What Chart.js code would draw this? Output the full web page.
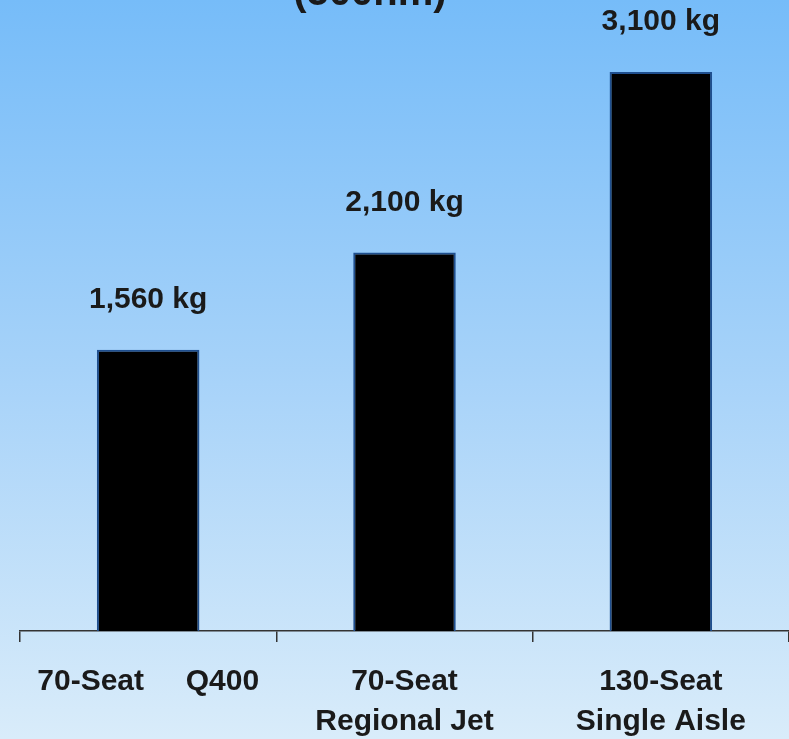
<!DOCTYPE html>
<html>
<head>
<meta charset="utf-8">
<script src="https://cdn.jsdelivr.net/npm/chart.js@4.4.0/dist/chart.umd.min.js"></script>
<style>
  html, body { margin: 0; padding: 0; background: #fff; }
  #wrap { width: 789px; height: 739px; position: relative; }
</style>
</head>
<body>
<div id="wrap"><canvas id="c"></canvas></div>
<script>
const categories = [["70-Seat     Q400"], ["70-Seat", "Regional Jet"], ["130-Seat", "Single Aisle"]];
const values = [1560, 2100, 3100];
const valueLabels = ["1,560 kg", "2,100 kg", "3,100 kg"];
const titleText = "(500nm)";

const bgPlugin = {
  id: 'bg',
  beforeDraw(chart) {
    const ctx = chart.ctx;
    const g = ctx.createLinearGradient(0, 0, 0, chart.height);
    g.addColorStop(0, '#76bcf9');
    g.addColorStop(0.5, '#a6d2f9');
    g.addColorStop(1, '#d9ecfa');
    ctx.save();
    ctx.fillStyle = g;
    ctx.fillRect(0, 0, chart.width, chart.height);
    ctx.restore();
  }
};

const labelPlugin = {
  id: 'vlabels',
  afterDatasetsDraw(chart) {
    const ctx = chart.ctx;
    const meta = chart.getDatasetMeta(0);
    ctx.save();
    ctx.font = 'bold 30px "Liberation Sans", Arial, sans-serif';
    ctx.fillStyle = '#1a1a1a';
    ctx.textAlign = 'center';
    ctx.textBaseline = 'middle';
    meta.data.forEach((bar, i) => {
      ctx.fillText(valueLabels[i], bar.x, bar.y - 50);
    });
    // partially visible title at the top
    ctx.font = 'bold 40px "Liberation Sans", Arial, sans-serif';
    ctx.textBaseline = 'alphabetic';
    ctx.fillText(titleText, 370, 5);
    ctx.restore();
  }
};

new Chart(document.getElementById('c'), {
  type: 'bar',
  data: {
    labels: categories,
    datasets: [{
      data: values,
      backgroundColor: '#000000',
      borderColor: '#1f4f8f',
      borderWidth: 2,
      barPercentage: 0.4,
      categoryPercentage: 1.0
    }]
  },
  options: {
    responsive: true,
    maintainAspectRatio: false,
    animation: false,
    layout: { padding: { left: 20, right: 0, top: 0, bottom: -23 } },
    plugins: {
      legend: { display: false },
      tooltip: { enabled: false },
      title: { display: false }
    },
    scales: {
      y: {
        display: false,
        min: 0,
        max: 3500
      },
      x: {
        grid: {
          offset: true,
          drawOnChartArea: false,
          drawTicks: true,
          tickLength: 11,
          color: '#333333',
          lineWidth: 1.5
        },
        border: { display: true, color: '#333333', width: 1.5 },
        ticks: {
          color: '#1a1a1a',
          font: { family: '"Liberation Sans", Arial, sans-serif', size: 30, weight: 'bold', lineHeight: 1.333 },
          padding: 20,
          maxRotation: 0,
          autoSkip: false
        }
      }
    }
  },
  plugins: [bgPlugin, labelPlugin]
});
</script>
</body>
</html>
